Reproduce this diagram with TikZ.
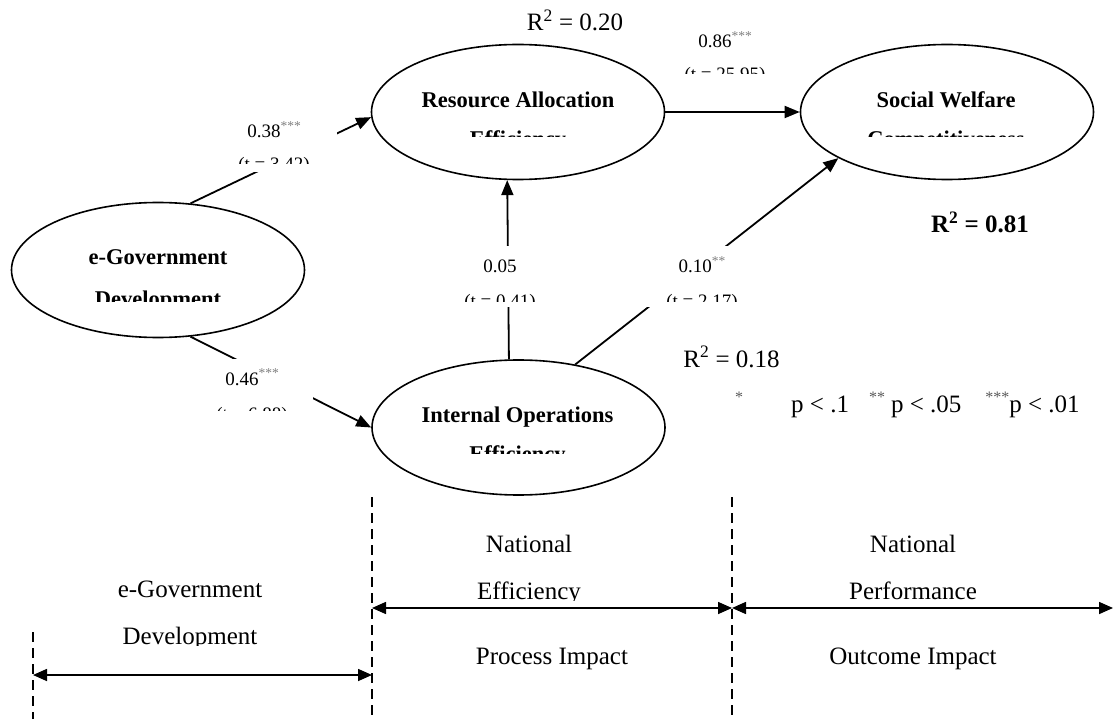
\documentclass[tikz,border=0pt]{standalone}
\usepackage{fontspec}
\setmainfont{Liberation Serif}
\usetikzlibrary{shapes.geometric,arrows.meta}
\tikzset{
  lv/.style={ellipse, draw, line width=1.6pt, minimum width=293pt, minimum height=135pt, inner sep=0pt},
  conn/.style={line width=1.8pt, -{Triangle[length=15pt,width=12pt]}},
  dimarrow/.style={line width=1.6pt, {Triangle[length=14pt,width=12pt]}-{Triangle[length=14pt,width=12pt]}},
  sepline/.style={line width=1.8pt, dash pattern=on 10pt off 6pt},
  blank/.style={fill=white, draw=none, inner sep=0pt, outer sep=0pt},
  lvtxt/.style={font=\fontsize{22.5}{27}\selectfont\bfseries, anchor=base, inner sep=0pt},
  coef/.style={font=\fontsize{19}{23}\selectfont, anchor=base, inner sep=0pt},
  big/.style={font=\fontsize{25}{30}\selectfont, anchor=base, inner sep=0pt},
}
\newcommand\cstars[1]{\textcolor{gray}{\raisebox{0.40em}{\fontsize{13.5}{13.5}\selectfont #1}}}
\newcommand\lstars[1]{\textcolor{gray!70!black}{\raisebox{0.38em}{\fontsize{16}{16}\selectfont #1}}}
\begin{document}
\begin{tikzpicture}[x=1pt,y=-1pt]
\useasboundingbox (0,0) rectangle (1114,719);
% latent variables
\node[lv] (egov) at (158,270) {};
\node[lv] (ra) at (518,112) {};
\node[lv] (sw) at (947,112) {};
\node[lv] (io) at (518.5,427.5) {};
% paths
\draw[conn] (egov.64) -- (ra.182);
\draw[conn] (egov.-64) -- (io.180);
\draw[conn] (ra.east) -- (sw.west);
\draw[conn] (io.98.8) -- (ra.261.5);
\draw[conn] (io.48.3) -- (sw.203.9);
% label boxes (white)
\node[blank, minimum width=126pt, minimum height=60pt] (b038) at (274,142) {};
\node[blank, minimum width=120pt, minimum height=60pt] (b086) at (725,52) {};
\node[blank, minimum width=100pt, minimum height=61pt] (b005) at (503,276.5) {};
\node[blank, minimum width=115pt, minimum height=61pt] (b010) at (702.5,276.5) {};
\node[blank, minimum width=118pt, minimum height=60pt] (b046) at (254,389) {};
% coefficients
\node[coef] (c038) at (274,138) {0.38\cstars{***}};
\begin{scope}\clip (150,145) rectangle (400,164); \node[coef] (t038) at (274,171) {(t = 3.42)};\end{scope}
\node[coef] (c086) at (725,48) {0.86\cstars{***}};
\begin{scope}\clip (600,55) rectangle (850,74); \node[coef] (t086) at (725,81) {(t = 25.95)};\end{scope}
\node[coef] (c005) at (500,273) {0.05};
\begin{scope}\clip (420,280) rectangle (580,302); \node[coef] (t005) at (500,308) {(t = 0.41)};\end{scope}
\node[coef] (c010) at (702,273) {0.10\cstars{**}};
\begin{scope}\clip (620,280) rectangle (780,302); \node[coef] (t010) at (702,308) {(t = 2.17)};\end{scope}
\node[coef] (c046) at (252,385) {0.46\cstars{***}};
\begin{scope}\clip (150,392) rectangle (340,410); \node[coef] (t046) at (252,420) {(t = 6.88)};\end{scope}
% ellipse texts
\node[lvtxt] (egov1) at (158,265) {e-Government};
\begin{scope}\clip (0,280) rectangle (320,302); \node[lvtxt] (egov2) at (158,307) {Development};\end{scope}
\node[lvtxt] (ra1) at (518,108) {Resource Allocation};
\begin{scope}\clip (380,120) rectangle (660,137); \node[lvtxt] (ra2) at (518,147) {Efficiency};\end{scope}
\node[lvtxt] (sw1) at (946,108) {Social Welfare};
\begin{scope}\clip (810,120) rectangle (1090,137); \node[lvtxt] (sw2) at (946,147) {Competitiveness};\end{scope}
\node[lvtxt] (io1) at (517.5,422) {Internal Operations};
\begin{scope}\clip (380,435) rectangle (660,453); \node[lvtxt] (io2) at (517.5,461) {Efficiency};\end{scope}
% R squared
\node[big] (r020) at (575,31) {R\textsuperscript{2} = 0.20};
\node[big, font=\fontsize{25}{30}\selectfont\bfseries] (r081) at (980,233) {R\textsuperscript{2} = 0.81};
\node[big] (r018) at (731.5,367) {R\textsuperscript{2} = 0.18};
\node[big, anchor=base west] (legend) at (735,412) {\lstars{*}\hspace{48pt}p < .1\hspace{20pt}\lstars{**}\hspace{6pt}p < .05\hspace{24pt}\lstars{***}p < .01};
% stage separators
\coordinate (s1t) at (33,632); \coordinate (s1b) at (33,719);
\coordinate (s2t) at (372,497); \coordinate (s2b) at (372,719);
\coordinate (s3t) at (732,497); \coordinate (s3b) at (732,719);
\draw[sepline] (s1t) -- (s1b);
\draw[sepline] (s2t) -- (s2b);
\draw[sepline] (s3t) -- (s3b);
\coordinate (a1l) at (33,675); \coordinate (a1r) at (372,675);
\coordinate (a2l) at (372,608); \coordinate (a2r) at (732,608);
\coordinate (a3l) at (732,608); \coordinate (a3r) at (1113,608);
\draw[dimarrow] (a1l) -- (a1r);
\draw[dimarrow] (a2l) -- (a2r);
\draw[dimarrow] (a3l) -- (a3r);
% stage labels
\node[big] (eg1) at (190,597) {e-Government};
\begin{scope}\clip (0,615) rectangle (372,645); \node[big] (eg2) at (190,644) {Development};\end{scope}
\node[big] (ne1) at (529,552) {National};
\begin{scope}\clip (400,570) rectangle (700,600); \node[big] (ne2) at (529,599) {Efficiency};\end{scope}
\node[big] (pi) at (552,664) {Process Impact};
\node[big] (np1) at (913,552) {National};
\node[big] (np2) at (913,599) {Performance};
\node[big] (oi) at (913,664) {Outcome Impact};
\end{tikzpicture}
\end{document}
